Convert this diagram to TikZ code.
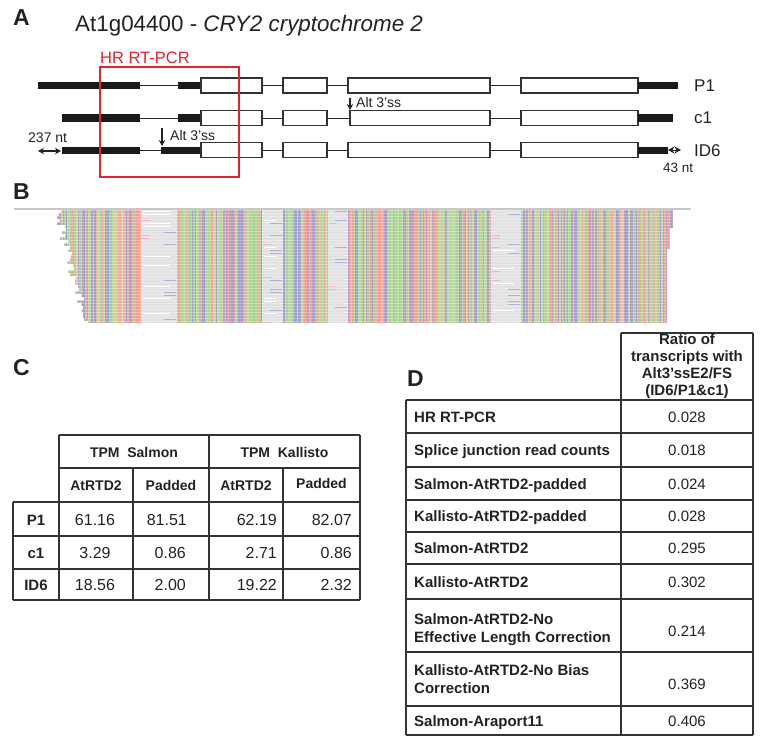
\documentclass[tikz,border=0pt]{standalone}
\usepackage{fontspec}
\setmainfont{Liberation Sans}
\usetikzlibrary{arrows.meta}
\definecolor{ink}{HTML}{222222}
\definecolor{pcr}{HTML}{E0242E}
\definecolor{bcol1}{HTML}{F49E92}
\definecolor{bcol2}{HTML}{F2AA9E}
\definecolor{bcol3}{HTML}{AED497}
\definecolor{bcol4}{HTML}{B8D9A2}
\definecolor{bcol5}{HTML}{A9D096}
\definecolor{bcol6}{HTML}{979ED4}
\definecolor{bcol7}{HTML}{B89CC6}
\definecolor{bcol8}{HTML}{CFD2A0}
\definecolor{grayb}{HTML}{E2E2E2}
\newcommand\gblock[5]{%
  \pgfmathsetmacro\gbc{(#3+#4)/2}\pgfmathsetmacro\gbw{#4-#3}%
  \node[#1, minimum width=\gbw pt] (#2) at (\gbc,#5) {};}
\begin{document}
\begin{tikzpicture}[x=1pt,y=-1pt,
  exon/.style={draw=black!80, line width=1.1pt, fill=white, minimum height=15pt, inner sep=0pt, outer sep=0pt},
  utr/.style={fill=black!90, minimum height=7pt, inner sep=0pt, outer sep=0pt},
  intr/.style={draw=black!85, line width=0.9pt},
  panel/.style={font=\fontsize{23}{26}\bfseries\selectfont, text=ink, anchor=base west, inner sep=0pt},
  rowlbl/.style={font=\fontsize{17}{20}\selectfont, text=ink, anchor=base west, inner sep=0pt},
  small/.style={font=\fontsize{14}{16}\selectfont, text=ink, anchor=base west, inner sep=0pt},
  pointer/.style={draw=ink, line width=1.2pt, -{Stealth[length=6pt,width=6.5pt]}},
  dbl/.style={draw=ink, line width=1.2pt, {Stealth[length=6pt,width=6.5pt]}-{Stealth[length=6pt,width=6.5pt]}},
  tbl/.style={draw=black!80, line width=1.1pt},
  hdC/.style={font=\fontsize{14}{16}\bfseries\selectfont, text=ink, anchor=base, inner sep=0pt},
  numC/.style={font=\fontsize{16}{18}\selectfont, text=ink, anchor=base, inner sep=0pt},
  txD/.style={font=\fontsize{15}{17}\bfseries\selectfont, text=ink, anchor=base west, inner sep=0pt},
  numD/.style={font=\fontsize{15}{17}\selectfont, text=ink, anchor=base, inner sep=0pt}
]
\useasboundingbox (0,0) rectangle (762,741);

% ---------------- Panel A ----------------
\node[panel] (lA) at (13,26) {A};
\node[anchor=base west, inner sep=0pt, text=ink, font=\fontsize{22.4}{26}\selectfont] (title) at (75,32) {At1g04400 - \textit{CRY2 cryptochrome 2}};

% P1
\gblock{utr}{p1u1}{38}{140}{85.5}
\gblock{utr}{p1u2}{178}{201}{85.5}
\gblock{exon}{p1e1}{201}{262}{85.5}
\gblock{exon}{p1e2}{283}{327}{85.5}
\gblock{exon}{p1e3}{348}{490}{85.5}
\gblock{exon}{p1e4}{521}{638}{85.5}
\gblock{utr}{p1u3}{638}{678}{85.5}
\draw[intr] (p1u1.east) -- (p1u2.west);
\draw[intr] (p1e1.east) -- (p1e2.west);
\draw[intr] (p1e2.east) -- (p1e3.west);
\draw[intr] (p1e3.east) -- (p1e4.west);
% c1
\gblock{utr}{c1u1}{62}{140}{118}
\gblock{utr}{c1u2}{178}{201}{118}
\gblock{exon}{c1e1}{201}{262}{118}
\gblock{exon}{c1e2}{283}{327}{118}
\gblock{exon}{c1e3}{350}{490}{118}
\gblock{exon}{c1e4}{521}{638}{118}
\gblock{utr}{c1u3}{638}{673}{118}
\draw[intr] (c1u1.east) -- (c1u2.west);
\draw[intr] (c1e1.east) -- (c1e2.west);
\draw[intr] (c1e2.east) -- (c1e3.west);
\draw[intr] (c1e3.east) -- (c1e4.west);
% ID6
\gblock{utr}{idu1}{62}{140}{150}
\gblock{utr}{idu2}{161}{201}{150}
\gblock{exon}{ide1}{201}{262}{150}
\gblock{exon}{ide2}{283}{327}{150}
\gblock{exon}{ide3}{348}{490}{150}
\gblock{exon}{ide4}{521}{638}{150}
\gblock{utr}{idu3}{638}{668}{150}
\draw[intr] (idu1.east) -- (idu2.west);
\draw[intr] (ide1.east) -- (ide2.west);
\draw[intr] (ide2.east) -- (ide3.west);
\draw[intr] (ide3.east) -- (ide4.west);

\node[rowlbl] (lP1) at (694,91.5) {P1};
\node[rowlbl] (lc1) at (694,124) {c1};
\node[rowlbl] (lID6) at (694,156) {ID6};

% Alt 3'ss markers
\coordinate (a1s) at (350,98.5);
\coordinate (a1e) at (350,110);
\draw[pointer] (a1s) -- (a1e);
\node[small] (alt1) at (356,108) {Alt 3’ss};
\coordinate (a2s) at (162,127.5);
\coordinate (a2e) at (162,146);
\draw[pointer] (a2s) -- (a2e);
\node[small] (alt2) at (170,140) {Alt 3’ss};

% length marks
\node[small] (n237) at (28,142) {237 nt};
\coordinate (d1a) at (38,151);
\coordinate (d1b) at (61,151);
\draw[dbl] (d1a) -- (d1b);
\node[small, font=\fontsize{13.5}{16}\selectfont] (n43) at (663,172) {43 nt};
\coordinate (d2a) at (668,150);
\coordinate (d2b) at (681,150);
\draw[draw=ink, line width=1pt, {Stealth[length=6.5pt,width=7pt]}-{Stealth[length=6.5pt,width=7pt]}] (d2a) -- (d2b);

% HR RT-PCR box
\draw[pcr, line width=1.3pt] (100,67) rectangle (239,177);
\node[anchor=base west, inner sep=0pt, text=pcr, font=\fontsize{16.5}{19}\selectfont] (hr) at (100,64) {HR RT-PCR};

% ---------------- Panel B ----------------
\node[panel] (lB) at (13,199) {B};
\pgfmathsetseed{11}
\foreach \i in {0,...,414} {
  \pgfmathsetmacro\xx{52+1.5*\i}
  \pgfmathrandominteger{\cc}{1}{8}
  \fill[fill=bcol\cc] (\xx,210) rectangle ++(1.55,113);
}
% intron-like gray regions
\foreach \ga/\gb in {141/177,262/283,328/348,491/521} {
  \fill[grayb] (\ga,210) rectangle (\gb,323);
  \foreach \j in {0,...,37} {
    \pgfmathrandominteger{\rr}{1}{7}
    \ifnum\rr=1 \fill[white] (\ga+2,210+3*\j+0.8) rectangle (\gb-7,210+3*\j+2.3);\fi
    \ifnum\rr=2 \fill[bcol6, opacity=0.7] (\gb-13,210+3*\j+0.8) rectangle (\gb-1,210+3*\j+2.1);\fi
    \ifnum\rr=3 \fill[bcol1, opacity=0.6] (\ga+1,210+3*\j+0.8) rectangle (\ga+9,210+3*\j+2.1);\fi
  }
}
% read row texture
\foreach \j in {0,...,37} {
  \draw[white, opacity=0.3, line width=0.5pt] (52,210+3*\j) -- (674,210+3*\j);
}
% ragged left and right read ends
\foreach \j in {0,...,37} {
  \pgfmathrandominteger{\jit}{0}{9}
  \pgfmathsetmacro\st{52+0.8*\j+\jit}
  \fill[white] (44,210+3*\j) rectangle (\st,213+3*\j);
  \pgfmathsetmacro\en{\j<6 ? 673 : (\j<13 ? 670 : 667)}
  \fill[white] (\en,210+3*\j) rectangle (682,213+3*\j);
}
\draw[draw=black!22, line width=1.8pt] (14,209) -- (691,209);

% ---------------- Panel C ----------------
\node[panel] (lC) at (13,375) {C};
\draw[tbl] (59,435) -- (360,435);
\draw[tbl] (59,468) -- (360,468);
\draw[tbl] (13,502) -- (360,502);
\draw[tbl] (13,536) -- (360,536);
\draw[tbl] (13,569) -- (360,569);
\draw[tbl] (13,600) -- (360,600);
\draw[tbl] (13,502) -- (13,600);
\draw[tbl] (59,435) -- (59,600);
\draw[tbl] (133,468) -- (133,600);
\draw[tbl] (209,435) -- (209,600);
\draw[tbl] (283,468) -- (283,600);
\draw[tbl] (360,435) -- (360,600);

\node[hdC] (cSal) at (134,457) {TPM\ \ Salmon};
\node[hdC] (cKal) at (284.5,457) {TPM\ \ Kallisto};
\node[hdC] (cs1) at (96,490.5) {AtRTD2};
\node[hdC] (cs2) at (171,490.5) {Padded};
\node[hdC] (ck1) at (246,490.5) {AtRTD2};
\node[hdC] (ck2) at (321.5,488) {Padded};
\node[hdC, font=\fontsize{15}{17}\bfseries\selectfont] (rP1) at (36,525) {P1};
\node[hdC, font=\fontsize{15}{17}\bfseries\selectfont] (rc1) at (36,558.5) {c1};
\node[hdC, font=\fontsize{15}{17}\bfseries\selectfont] (rID6) at (36,590.5) {ID6};

\node[numC] (v11) at (95,525) {61.16};
\node[numC, anchor=base east] (v12) at (187,525) {81.51};
\node[numC, anchor=base east] (v13) at (277,525) {62.19};
\node[numC, anchor=base east] (v14) at (352,525) {82.07};
\node[numC] (v21) at (95,558.5) {3.29};
\node[numC, anchor=base east] (v22) at (186,558.5) {0.86};
\node[numC, anchor=base east] (v23) at (277,558.5) {2.71};
\node[numC, anchor=base east] (v24) at (352,558.5) {0.86};
\node[numC] (v31) at (95,590.5) {18.56};
\node[numC, anchor=base east] (v32) at (186,590.5) {2.00};
\node[numC, anchor=base east] (v33) at (277,590.5) {19.22};
\node[numC, anchor=base east] (v34) at (352,590.5) {2.32};

% ---------------- Panel D ----------------
\node[panel] (lD) at (407,386) {D};
\draw[tbl] (621,333) -- (753,333);
\foreach \yy in {400,433,467,500,532,564,599,652,706,735} {
  \draw[tbl] (406,\yy) -- (753,\yy);
}
\draw[tbl] (406,400) -- (406,735);
\draw[tbl] (621,333) -- (621,735);
\draw[tbl] (753,333) -- (753,735);

\node[font=\fontsize{15}{17}\bfseries\selectfont, text=ink, align=center, inner sep=0pt] (hD) at (687,366.5) {Ratio of\\transcripts with\\Alt3’ssE2/FS\\(ID6/P1\&c1)};

\node[txD] (d1) at (414,422) {HR RT-PCR};
\node[txD] (d2) at (414,455.5) {Splice junction read counts};
\node[txD] (d3) at (414,489) {Salmon-AtRTD2-padded};
\node[txD] (d4) at (414,521.5) {Kallisto-AtRTD2-padded};
\node[txD] (d5) at (414,553.5) {Salmon-AtRTD2};
\node[txD] (d6) at (414,587) {Kallisto-AtRTD2};
\node[txD] (d7a) at (414,624) {Salmon-AtRTD2-No};
\node[txD] (d7b) at (414,642) {Effective Length Correction};
\node[txD] (d8a) at (414,675) {Kallisto-AtRTD2-No Bias};
\node[txD] (d8b) at (414,693) {Correction};
\node[txD] (d9) at (414,726) {Salmon-Araport11};

\node[numD] (w1) at (687,422) {0.028};
\node[numD] (w2) at (687,455.5) {0.018};
\node[numD] (w3) at (687,489) {0.024};
\node[numD] (w4) at (687,521.5) {0.028};
\node[numD] (w5) at (687,553.5) {0.295};
\node[numD] (w6) at (687,587) {0.302};
\node[numD] (w7) at (687,636) {0.214};
\node[numD] (w8) at (687,689) {0.369};
\node[numD] (w9) at (687,726) {0.406};
\end{tikzpicture}
\end{document}
